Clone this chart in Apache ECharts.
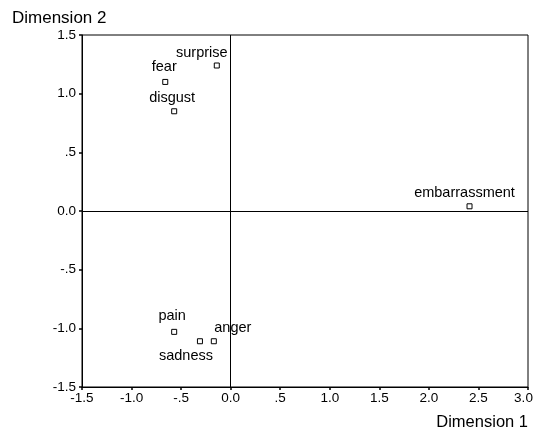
<!DOCTYPE html>
<html>
<head>
<meta charset="utf-8">
<script src="https://cdn.jsdelivr.net/npm/echarts@6/dist/echarts.min.js"></script>
<style>html,body{margin:0;padding:0;background:#fff;}#c{width:534px;height:431px;}</style>
</head>
<body>
<div id="c"></div>
<script>
// Data
var names = ['surprise', 'fear', 'disgust', 'embarrassment', 'pain', 'sadness', 'anger'];
var dim1 = [-0.14, -0.66, -0.57, 2.41, -0.57, -0.31, -0.17];
var dim2 = [1.24, 1.10, 0.85, 0.04, -1.03, -1.11, -1.11];
var xTickValues = [-1.5, -1.0, -0.5, 0.0, 0.5, 1.0, 1.5, 2.0, 2.5, 3.0];
var xTickLabels = ['-1.5', '-1.0', '-.5', '0.0', '.5', '1.0', '1.5', '2.0', '2.5', '3.0'];
var yTickValues = [-1.5, -1.0, -0.5, 0.0, 0.5, 1.0, 1.5];
var yTickLabels = ['-1.5', '-1.0', '-.5', '0.0', '.5', '1.0', '1.5'];

// label placement (styling, not data)
var labelPlacement = {
  surprise: {position: 'top', offset: [-15, 3]},
  fear: {position: 'top', offset: [-1, 1]},
  disgust: {position: 'top', offset: [-2, 2]},
  embarrassment: {position: 'top', offset: [-5, 2]},
  pain: {position: 'top', offset: [-2, 0]},
  sadness: {position: 'bottom', offset: [-14, -1]},
  anger: {position: 'top', offset: [19, 2]}
};

function fmt(values, labels, lastRich) {
  return function (v) {
    for (var i = 0; i < values.length; i++) {
      if (Math.abs(values[i] - v) < 1e-9) {
        if (lastRich && i === values.length - 1) return '{last|' + labels[i] + '}';
        return labels[i];
      }
    }
    return '';
  };
}

var FONT = 'Liberation Sans, Arial, sans-serif';
var points = names.map(function (n, i) {
  var lp = labelPlacement[n];
  return {
    name: n,
    value: [dim1[i], dim2[i]],
    label: {show: true, formatter: n, position: lp.position, offset: lp.offset, distance: 5,
      color: '#000', fontSize: 14.5, fontFamily: FONT}
  };
});

var chart = echarts.init(document.getElementById('c'), null, {renderer: 'canvas'});
chart.setOption({
  animation: false,
  backgroundColor: '#fff',
  grid: {left: 82, right: 6, top: 35, bottom: 44, containLabel: false, outerBoundsMode: 'none',
    show: true, borderColor: '#000', borderWidth: 1, backgroundColor: 'transparent'},
  xAxis: {
    type: 'value', min: -1.5, max: 3.0, interval: 0.5,
    axisLine: {show: true, onZero: false, lineStyle: {color: '#000', width: 1}},
    axisTick: {show: true, length: 3, inside: false, lineStyle: {color: '#000', width: 1.5}},
    axisLabel: {formatter: fmt(xTickValues, xTickLabels, true), color: '#000', fontSize: 13.5, fontFamily: FONT, margin: 4, hideOverlap: false,
      rich: {last: {color: '#000', fontSize: 13.5, fontFamily: FONT, padding: [0, 9, 0, 0]}}},
    splitLine: {show: false}
  },
  yAxis: {
    type: 'value', min: -1.5, max: 1.5, interval: 0.5,
    axisLine: {show: true, onZero: false, lineStyle: {color: '#000', width: 1}},
    axisTick: {show: true, length: 3, inside: false, lineStyle: {color: '#000', width: 1.5}},
    axisLabel: {formatter: fmt(yTickValues, yTickLabels, false), color: '#000', fontSize: 13.5, fontFamily: FONT, margin: 6},
    splitLine: {show: false}
  },
  graphic: [
    {type: 'text', left: 12, top: 10, style: {text: 'Dimension 2', fill: '#000', font: '17px Liberation Sans, Arial, sans-serif'}},
    {type: 'text', right: 6, top: 414, style: {text: 'Dimension 1', fill: '#000', font: '16.5px Liberation Sans, Arial, sans-serif'}}
  ],
  series: [{
    type: 'scatter',
    symbol: 'rect',
    symbolSize: 5,
    itemStyle: {color: '#fff', borderColor: '#000', borderWidth: 1, opacity: 1},
    data: points,
    markLine: {
      silent: true,
      symbol: ['none', 'none'],
      label: {show: false},
      lineStyle: {color: '#000', width: 1, type: 'solid'},
      data: [{xAxis: 0}, {yAxis: 0}]
    }
  }]
});
</script>
</body>
</html>
